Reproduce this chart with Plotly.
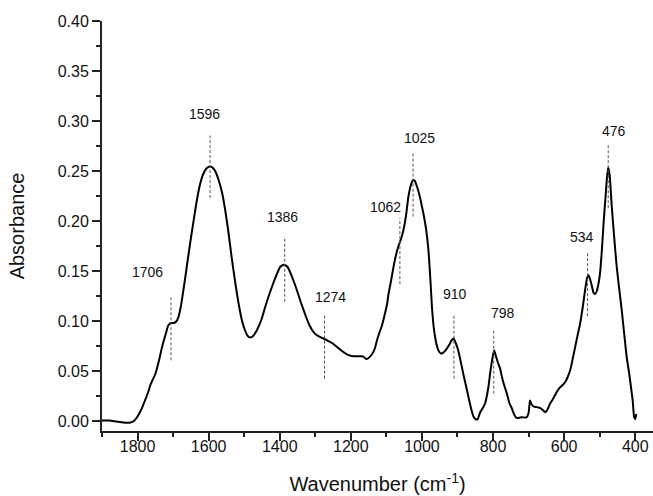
import plotly.graph_objects as go

# ---- spectrum data (wavenumber, absorbance) ----
wavenumber = [
    1900, 1880, 1860, 1840, 1820, 1810, 1801, 1790, 1783, 1770, 1764, 1750, 1740, 1731, 1720,
    1713, 1706, 1698, 1690, 1685, 1678, 1671, 1662, 1652, 1642, 1633, 1624, 1614, 1605, 1596,
    1588, 1581, 1572, 1562, 1553, 1544, 1535, 1525, 1515, 1506, 1497, 1490, 1483, 1475, 1464,
    1452, 1441, 1430, 1418, 1408, 1399, 1391, 1386, 1378, 1371, 1362, 1352, 1340, 1328, 1318,
    1309, 1300, 1291, 1280, 1267, 1253, 1239, 1225, 1211, 1197, 1183, 1170, 1163, 1157, 1150,
    1141, 1133, 1127, 1120, 1112, 1105, 1098, 1094, 1087, 1080, 1073, 1066, 1058, 1052, 1045,
    1038, 1031, 1025, 1020, 1014, 1007, 1000, 994, 988, 982, 976, 972, 967, 962, 957,
    951, 945, 938, 930, 922, 916, 911, 905, 898, 890, 883, 876, 869, 862, 855,
    848, 843, 836, 827, 822, 813, 808, 803, 797, 792, 786, 780, 775, 768, 761,
    754, 747, 740, 733, 726, 719, 712, 706, 700, 696, 692, 686, 679, 672, 667,
    660, 653, 646, 640, 633, 626, 619, 611, 604, 597, 590, 583, 576, 569, 562,
    555, 548, 541, 536, 532, 528, 522, 517, 513, 508, 503, 499, 494, 489, 484,
    480, 476, 472, 466, 459, 452, 445, 438, 431, 424, 418, 412, 407, 403, 400, 397,
]
absorbance = [
    0.0005, 0.0005, -0.0005, -0.0015, -0.0015, 0.000, 0.004, 0.011, 0.017, 0.029, 0.036, 0.047, 0.060, 0.074, 0.088,
    0.096, 0.098, 0.098, 0.100, 0.104, 0.115, 0.131, 0.153, 0.178, 0.201, 0.221, 0.237, 0.248, 0.253, 0.2545,
    0.253, 0.2495, 0.241, 0.228, 0.210, 0.188, 0.163, 0.138, 0.116, 0.100, 0.090, 0.085, 0.0835, 0.085, 0.091,
    0.101, 0.114, 0.126, 0.138, 0.147, 0.154, 0.156, 0.156, 0.154, 0.149, 0.141, 0.131, 0.118, 0.106, 0.097,
    0.091, 0.087, 0.0848, 0.083, 0.0807, 0.078, 0.074, 0.070, 0.0667, 0.065, 0.0647, 0.0647, 0.064, 0.062, 0.063,
    0.0665, 0.072, 0.080, 0.088, 0.096, 0.106, 0.117, 0.127, 0.140, 0.154, 0.166, 0.175, 0.183, 0.191, 0.205,
    0.2245, 0.236, 0.241, 0.240, 0.2345, 0.226, 0.2145, 0.204, 0.191, 0.172, 0.140, 0.115, 0.094, 0.082, 0.074,
    0.069, 0.0674, 0.069, 0.0724, 0.077, 0.081, 0.0824, 0.078, 0.0707, 0.058, 0.046, 0.035, 0.0239, 0.013, 0.0045,
    0.0015, 0.002, 0.0088, 0.014, 0.018, 0.034, 0.048, 0.060, 0.0707, 0.065, 0.058, 0.0524, 0.044, 0.035, 0.0273,
    0.018, 0.0125, 0.006, 0.003, 0.0032, 0.0038, 0.0035, 0.0035, 0.008, 0.0206, 0.017, 0.0145, 0.0140, 0.0135, 0.0128,
    0.011, 0.0088, 0.012, 0.0172, 0.021, 0.0256, 0.030, 0.0339, 0.036, 0.039, 0.044, 0.0507, 0.062, 0.074, 0.086,
    0.0975, 0.113, 0.131, 0.142, 0.146, 0.143, 0.135, 0.128, 0.127, 0.130, 0.138, 0.1476, 0.170, 0.198, 0.222,
    0.241, 0.2535, 0.246, 0.2145, 0.183, 0.154, 0.132, 0.111, 0.087, 0.064, 0.050, 0.034, 0.020, 0.0038, 0.002, 0.007,
]

# ---- peak labels ----
peak_labels = ["1706", "1596", "1386", "1274", "1062", "1025", "910", "798", "534", "476"]
peak_positions = [1706, 1596, 1386, 1274, 1062, 1025, 910, 798, 534, 476]

# ---- tick labels ----
x_tickvals = [1800, 1600, 1400, 1200, 1000, 800, 600, 400]
y_tickvals = [0.00, 0.05, 0.10, 0.15, 0.20, 0.25, 0.30, 0.35, 0.40]

# ---- annotation placement (layout only) ----
label_x_shift = [65, 15, 5, -18, 41, -17, -3, -25, 15, -15]
label_y = [0.1486, 0.307, 0.2044, 0.1242, 0.2138, 0.283, 0.1266, 0.1085, 0.1837, 0.2897]
line_y0 = [0.0607, 0.2229, 0.1192, 0.0423, 0.1369, 0.2044, 0.0423, 0.0273, 0.1048, 0.2128]
line_y1 = [0.1249, 0.2854, 0.1844, 0.1058, 0.2028, 0.2696, 0.1075, 0.0925, 0.1693, 0.2780]

FONT = "Arial, Liberation Sans, sans-serif"

fig = go.Figure()
fig.add_trace(go.Scatter(
    x=wavenumber, y=absorbance, mode="lines",
    line=dict(color="black", width=2, shape="spline", smoothing=0.6),
    hoverinfo="x+y", showlegend=False,
))

shapes = []
annotations = []
for lab, pos, dx, ly, y0, y1 in zip(peak_labels, peak_positions, label_x_shift,
                                    label_y, line_y0, line_y1):
    shapes.append(dict(type="line", xref="x", yref="y", x0=pos, x1=pos, y0=y0, y1=y1,
                       line=dict(color="#555555", width=1, dash="3px,2px")))
    annotations.append(dict(x=pos + dx, y=ly, xref="x", yref="y", text=lab,
                            showarrow=False, xanchor="center", yanchor="middle",
                            font=dict(family=FONT, size=14, color="#111111")))

fig.update_layout(
    width=653, height=496,
    margin=dict(l=102, r=0, t=21, b=65, autoexpand=False),
    paper_bgcolor="white", plot_bgcolor="white",
    font=dict(family=FONT, color="#111111"),
    shapes=shapes, annotations=annotations,
    showlegend=False,
)

fig.update_xaxes(
    range=[1900, 350], tickvals=x_tickvals, ticktext=[str(v) for v in x_tickvals],
    automargin=False,
    showgrid=False, zeroline=False,
    showline=True, linecolor="#222222", linewidth=2,
    ticks="outside", ticklen=8, tickwidth=1.5, tickcolor="#222222",
    ticklabelstandoff=-8,
    tickfont=dict(family=FONT, size=16, color="#111111"),
    minor=dict(ticks="outside", ticklen=4, tickwidth=1.5, tickcolor="#222222", dtick=100, tick0=0, showgrid=False),
    title=dict(text="Wavenumber (cm<sup>-1</sup>)", standoff=23,
               font=dict(family=FONT, size=20, color="#111111")),
)
fig.update_yaxes(
    range=[-0.01, 0.40], tickvals=y_tickvals, tickformat=".2f",
    automargin=False,
    showgrid=False, zeroline=False,
    showline=True, linecolor="#222222", linewidth=2,
    ticks="outside", ticklen=8, tickwidth=1.5, tickcolor="#222222",
    tickfont=dict(family=FONT, size=16, color="#111111"),
    minor=dict(ticks="outside", ticklen=4, tickwidth=1.5, tickcolor="#222222", dtick=0.025, tick0=0, showgrid=False),
    title=dict(text="Absorbance", standoff=28, font=dict(family=FONT, size=20, color="#111111")),
)

fig.write_html(
    "out.html",
    config={"displayModeBar": False},
    post_script="document.body.style.margin='0';document.body.style.padding='0';",
)
